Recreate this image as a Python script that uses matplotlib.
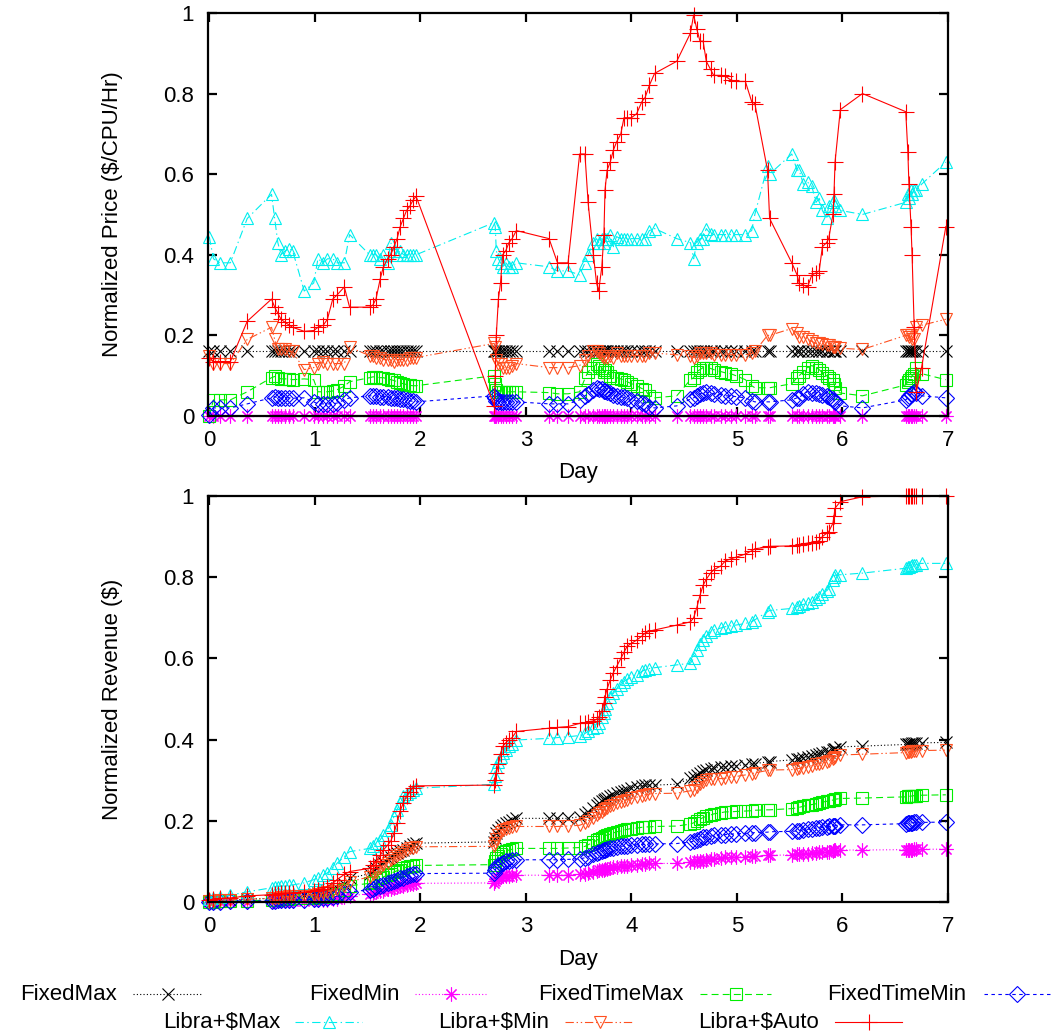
import matplotlib
matplotlib.use("Agg")
import matplotlib.pyplot as plt
from matplotlib.lines import Line2D

# job submission times (days), shared by every series
days = [0.00, 0.04, 0.10, 0.20, 0.36, 0.59, 0.62, 0.65, 0.68, 0.72,
        0.76, 0.79, 0.90, 0.99, 1.03, 1.08, 1.12, 1.17, 1.21, 1.28,
        1.33, 1.52, 1.55, 1.58, 1.62, 1.65, 1.69, 1.72, 1.75, 1.78,
        1.81, 1.84, 1.87, 1.90, 1.93, 1.96, 2.70, 2.71, 2.72, 2.74,
        2.76, 2.78, 2.81, 2.84, 2.87, 2.91, 3.22, 3.30, 3.40, 3.51,
        3.56, 3.59, 3.64, 3.67, 3.69, 3.72, 3.74, 3.75, 3.77, 3.80,
        3.83, 3.86, 3.90, 3.93, 3.96, 4.00, 4.05, 4.10, 4.13, 4.17,
        4.22, 4.43, 4.56, 4.59, 4.62, 4.65, 4.68, 4.71, 4.75, 4.78,
        4.85, 4.89, 4.94, 4.99, 5.08, 5.14, 5.17, 5.29, 5.31, 5.52,
        5.57, 5.59, 5.63, 5.67, 5.71, 5.75, 5.78, 5.81, 5.85, 5.87,
        5.91, 5.92, 5.93, 5.98, 6.19, 6.60, 6.62, 6.63, 6.65, 6.66,
        6.68, 6.70, 6.75, 6.98]

# ---- normalized price ----
price_fixed_max = [0.16, 0.16, 0.16, 0.16, 0.16, 0.16, 0.16, 0.16, 0.16, 0.16,
                   0.16, 0.16, 0.16, 0.16, 0.16, 0.16, 0.16, 0.16, 0.16, 0.16,
                   0.16, 0.16, 0.16, 0.16, 0.16, 0.16, 0.16, 0.16, 0.16, 0.16,
                   0.16, 0.16, 0.16, 0.16, 0.16, 0.16, 0.16, 0.16, 0.16, 0.16,
                   0.16, 0.16, 0.16, 0.16, 0.16, 0.16, 0.16, 0.16, 0.16, 0.16,
                   0.16, 0.16, 0.16, 0.16, 0.16, 0.16, 0.16, 0.16, 0.16, 0.16,
                   0.16, 0.16, 0.16, 0.16, 0.16, 0.16, 0.16, 0.16, 0.16, 0.16,
                   0.16, 0.16, 0.16, 0.16, 0.16, 0.16, 0.16, 0.16, 0.16, 0.16,
                   0.16, 0.16, 0.16, 0.16, 0.16, 0.16, 0.16, 0.16, 0.16, 0.16,
                   0.16, 0.16, 0.16, 0.16, 0.16, 0.16, 0.16, 0.16, 0.16, 0.16,
                   0.16, 0.16, 0.16, 0.16, 0.16, 0.16, 0.16, 0.16, 0.16, 0.16,
                   0.16, 0.16, 0.16, 0.16]
price_fixed_min = [0.0, 0.0, 0.0, 0.0, 0.0, 0.0, 0.0, 0.0, 0.0, 0.0,
                   0.0, 0.0, 0.0, 0.0, 0.0, 0.0, 0.0, 0.0, 0.0, 0.0,
                   0.0, 0.0, 0.0, 0.0, 0.0, 0.0, 0.0, 0.0, 0.0, 0.0,
                   0.0, 0.0, 0.0, 0.0, 0.0, 0.0, 0.0, 0.0, 0.0, 0.0,
                   0.0, 0.0, 0.0, 0.0, 0.0, 0.0, 0.0, 0.0, 0.0, 0.0,
                   0.0, 0.0, 0.0, 0.0, 0.0, 0.0, 0.0, 0.0, 0.0, 0.0,
                   0.0, 0.0, 0.0, 0.0, 0.0, 0.0, 0.0, 0.0, 0.0, 0.0,
                   0.0, 0.0, 0.0, 0.0, 0.0, 0.0, 0.0, 0.0, 0.0, 0.0,
                   0.0, 0.0, 0.0, 0.0, 0.0, 0.0, 0.0, 0.0, 0.0, 0.0,
                   0.0, 0.0, 0.0, 0.0, 0.0, 0.0, 0.0, 0.0, 0.0, 0.0,
                   0.0, 0.0, 0.0, 0.0, 0.0, 0.0, 0.0, 0.0, 0.0, 0.0,
                   0.0, 0.0, 0.0, 0.0]
price_time_max = [0.0, 0.04, 0.04, 0.04, 0.06, 0.095, 0.098, 0.095, 0.092, 0.092,
                  0.092, 0.09, 0.092, 0.09, 0.06, 0.06, 0.06, 0.062, 0.065, 0.074,
                  0.085, 0.095, 0.097, 0.097, 0.095, 0.095, 0.092, 0.09, 0.088, 0.085,
                  0.082, 0.08, 0.078, 0.076, 0.075, 0.075, 0.10, 0.08, 0.065, 0.06,
                  0.06, 0.06, 0.06, 0.06, 0.06, 0.06, 0.058, 0.055, 0.055, 0.06,
                  0.093, 0.11, 0.12, 0.13, 0.125, 0.12, 0.11, 0.115, 0.11, 0.10,
                  0.095, 0.095, 0.092, 0.09, 0.085, 0.08, 0.075, 0.068, 0.065, 0.05,
                  0.045, 0.05, 0.09, 0.095, 0.11, 0.115, 0.12, 0.12, 0.118, 0.115,
                  0.11, 0.107, 0.105, 0.10, 0.09, 0.075, 0.07, 0.07, 0.07, 0.08,
                  0.095, 0.10, 0.11, 0.12, 0.125, 0.12, 0.115, 0.107, 0.10, 0.095,
                  0.09, 0.08, 0.07, 0.057, 0.05, 0.077, 0.085, 0.09, 0.095, 0.10,
                  0.105, 0.12, 0.105, 0.09]
price_time_min = [0.003, 0.02, 0.02, 0.02, 0.03, 0.045, 0.048, 0.045, 0.045, 0.045,
                  0.045, 0.044, 0.045, 0.035, 0.03, 0.03, 0.03, 0.03, 0.032, 0.04,
                  0.045, 0.05, 0.05, 0.05, 0.048, 0.048, 0.046, 0.045, 0.045, 0.044,
                  0.043, 0.042, 0.04, 0.038, 0.036, 0.035, 0.05, 0.045, 0.038, 0.035,
                  0.035, 0.035, 0.035, 0.035, 0.035, 0.035, 0.03, 0.03, 0.03, 0.04,
                  0.05, 0.055, 0.065, 0.07, 0.068, 0.066, 0.063, 0.063, 0.06, 0.058,
                  0.052, 0.05, 0.048, 0.046, 0.044, 0.04, 0.037, 0.032, 0.03, 0.022,
                  0.02, 0.025, 0.042, 0.045, 0.05, 0.055, 0.058, 0.06, 0.057, 0.055,
                  0.053, 0.05, 0.05, 0.048, 0.045, 0.038, 0.035, 0.035, 0.035, 0.04,
                  0.045, 0.045, 0.055, 0.06, 0.058, 0.057, 0.055, 0.052, 0.05, 0.048,
                  0.042, 0.038, 0.035, 0.025, 0.02, 0.04, 0.045, 0.05, 0.055, 0.055,
                  0.06, 0.058, 0.05, 0.045]
price_libra_max = [0.445, 0.39, 0.38, 0.38, 0.49, 0.55, 0.49, 0.43, 0.40, 0.41,
                   0.415, 0.41, 0.31, 0.33, 0.39, 0.38, 0.39, 0.39, 0.38, 0.38,
                   0.45, 0.40, 0.40, 0.40, 0.39, 0.40, 0.38, 0.43, 0.41, 0.40,
                   0.41, 0.40, 0.40, 0.40, 0.40, 0.40, 0.48, 0.47, 0.41, 0.39,
                   0.38, 0.37, 0.38, 0.37, 0.37, 0.38, 0.37, 0.36, 0.36, 0.35,
                   0.38, 0.40, 0.43, 0.44, 0.43, 0.44, 0.43, 0.44, 0.44, 0.45,
                   0.42, 0.445, 0.44, 0.44, 0.44, 0.44, 0.44, 0.44, 0.44, 0.46,
                   0.465, 0.44, 0.43, 0.39, 0.43, 0.44, 0.44, 0.465, 0.452, 0.45,
                   0.45, 0.45, 0.45, 0.45, 0.45, 0.46, 0.50, 0.62, 0.60, 0.65,
                   0.61, 0.61, 0.575, 0.58, 0.57, 0.53, 0.54, 0.51, 0.49, 0.52,
                   0.53, 0.535, 0.52, 0.51, 0.50, 0.53, 0.55, 0.54, 0.56, 0.55,
                   0.56, 0.56, 0.575, 0.63]
price_libra_min = [0.15, 0.13, 0.13, 0.13, 0.19, 0.22, 0.19, 0.165, 0.165, 0.165,
                   0.16, 0.16, 0.115, 0.12, 0.13, 0.135, 0.13, 0.13, 0.13, 0.13,
                   0.17, 0.15, 0.15, 0.145, 0.145, 0.14, 0.14, 0.14, 0.135, 0.14,
                   0.14, 0.14, 0.14, 0.145, 0.145, 0.145, 0.18, 0.17, 0.14, 0.13,
                   0.13, 0.12, 0.12, 0.12, 0.125, 0.13, 0.12, 0.12, 0.12, 0.125,
                   0.14, 0.15, 0.16, 0.16, 0.155, 0.15, 0.145, 0.15, 0.145, 0.15,
                   0.145, 0.156, 0.15, 0.15, 0.15, 0.15, 0.15, 0.148, 0.15, 0.155,
                   0.156, 0.152, 0.15, 0.145, 0.15, 0.155, 0.156, 0.156, 0.155, 0.152,
                   0.152, 0.152, 0.152, 0.152, 0.152, 0.155, 0.16, 0.20, 0.20, 0.217,
                   0.205, 0.196, 0.196, 0.192, 0.185, 0.18, 0.18, 0.178, 0.175, 0.175,
                   0.17, 0.17, 0.17, 0.168, 0.165, 0.20, 0.20, 0.195, 0.20, 0.19,
                   0.19, 0.22, 0.225, 0.24]
price_libra_auto = [0.145, 0.135, 0.135, 0.135, 0.235, 0.29, 0.27, 0.255, 0.24, 0.232,
                    0.225, 0.22, 0.21, 0.212, 0.22, 0.225, 0.24, 0.29, 0.30, 0.32,
                    0.27, 0.27, 0.275, 0.29, 0.34, 0.37, 0.39, 0.40, 0.42, 0.44,
                    0.47, 0.49, 0.51, 0.52, 0.535, 0.545, 0.025, 0.10, 0.20, 0.29,
                    0.33, 0.40, 0.41, 0.43, 0.44, 0.46, 0.44, 0.38, 0.38, 0.65,
                    0.65, 0.53, 0.40, 0.33, 0.31, 0.37, 0.45, 0.56, 0.61, 0.63,
                    0.66, 0.68, 0.70, 0.74, 0.74, 0.74, 0.75, 0.78, 0.79, 0.82,
                    0.85, 0.88, 0.95, 0.995, 0.96, 0.93, 0.93, 0.88, 0.86, 0.845,
                    0.845, 0.843, 0.834, 0.83, 0.83, 0.78, 0.775, 0.61, 0.49, 0.38,
                    0.35, 0.33, 0.325, 0.32, 0.35, 0.355, 0.36, 0.42, 0.43, 0.44,
                    0.50, 0.55, 0.63, 0.76, 0.80, 0.755, 0.655, 0.576, 0.47, 0.40,
                    0.22, 0.06, 0.12, 0.47]

# ---- normalized revenue (cumulative) ----
rev_fixed_max = [0.002, 0.003, 0.004, 0.005, 0.007, 0.009, 0.01, 0.011, 0.012, 0.013,
                 0.014, 0.015, 0.017, 0.019, 0.021, 0.023, 0.026, 0.03, 0.034, 0.045,
                 0.058, 0.07, 0.077, 0.084, 0.092, 0.098, 0.105, 0.112, 0.117, 0.121,
                 0.125, 0.128, 0.134, 0.138, 0.142, 0.145, 0.148, 0.158, 0.169, 0.177,
                 0.184, 0.19, 0.194, 0.198, 0.202, 0.206, 0.206, 0.206, 0.206, 0.21,
                 0.216, 0.222, 0.232, 0.24, 0.244, 0.248, 0.251, 0.254, 0.257, 0.261,
                 0.264, 0.268, 0.271, 0.274, 0.277, 0.28, 0.283, 0.286, 0.288, 0.288,
                 0.288, 0.29, 0.305, 0.309, 0.313, 0.318, 0.322, 0.325, 0.328, 0.33,
                 0.332, 0.333, 0.335, 0.336, 0.338, 0.34, 0.341, 0.345, 0.346, 0.35,
                 0.352, 0.353, 0.355, 0.358, 0.36, 0.363, 0.365, 0.367, 0.369, 0.37,
                 0.374, 0.376, 0.378, 0.382, 0.384, 0.388, 0.389, 0.39, 0.39, 0.391,
                 0.391, 0.392, 0.392, 0.393]
rev_fixed_min = [0.0, 0.0, 0.0, 0.001, 0.001, 0.002, 0.002, 0.002, 0.002, 0.003,
                 0.003, 0.003, 0.003, 0.004, 0.004, 0.005, 0.006, 0.007, 0.008, 0.012,
                 0.016, 0.02, 0.022, 0.024, 0.026, 0.028, 0.031, 0.033, 0.035, 0.037,
                 0.039, 0.04, 0.042, 0.044, 0.045, 0.046, 0.047, 0.052, 0.056, 0.059,
                 0.061, 0.063, 0.064, 0.065, 0.066, 0.066, 0.066, 0.066, 0.067, 0.068,
                 0.07, 0.071, 0.074, 0.077, 0.078, 0.079, 0.08, 0.081, 0.082, 0.084,
                 0.086, 0.087, 0.088, 0.089, 0.089, 0.09, 0.091, 0.093, 0.094, 0.095,
                 0.095, 0.095, 0.098, 0.099, 0.1, 0.101, 0.102, 0.103, 0.105, 0.106,
                 0.108, 0.11, 0.111, 0.111, 0.112, 0.113, 0.113, 0.115, 0.115, 0.116,
                 0.117, 0.117, 0.118, 0.119, 0.12, 0.121, 0.122, 0.123, 0.124, 0.124,
                 0.126, 0.127, 0.127, 0.128, 0.128, 0.129, 0.129, 0.129, 0.129, 0.129,
                 0.13, 0.13, 0.13, 0.13]
rev_time_max = [0.001, 0.001, 0.002, 0.002, 0.003, 0.005, 0.006, 0.006, 0.007, 0.008,
                0.008, 0.009, 0.01, 0.011, 0.012, 0.013, 0.015, 0.017, 0.02, 0.03,
                0.04, 0.046, 0.05, 0.054, 0.058, 0.062, 0.066, 0.07, 0.074, 0.077,
                0.08, 0.083, 0.086, 0.088, 0.089, 0.09, 0.092, 0.1, 0.108, 0.113,
                0.118, 0.122, 0.125, 0.128, 0.13, 0.132, 0.132, 0.132, 0.133, 0.134,
                0.137, 0.141, 0.147, 0.152, 0.155, 0.158, 0.161, 0.163, 0.165, 0.167,
                0.17, 0.173, 0.175, 0.177, 0.179, 0.181, 0.182, 0.184, 0.185, 0.185,
                0.186, 0.187, 0.192, 0.195, 0.2, 0.204, 0.208, 0.211, 0.214, 0.217,
                0.22, 0.222, 0.222, 0.223, 0.224, 0.225, 0.226, 0.227, 0.227, 0.23,
                0.232, 0.233, 0.236, 0.238, 0.24, 0.242, 0.244, 0.246, 0.248, 0.249,
                0.251, 0.252, 0.253, 0.255, 0.256, 0.259, 0.26, 0.26, 0.261, 0.261,
                0.262, 0.262, 0.263, 0.264]
rev_time_min = [0.001, 0.001, 0.001, 0.002, 0.002, 0.003, 0.003, 0.004, 0.004, 0.005,
                0.005, 0.005, 0.006, 0.007, 0.008, 0.009, 0.01, 0.012, 0.014, 0.02,
                0.025, 0.03, 0.033, 0.036, 0.039, 0.042, 0.046, 0.05, 0.052, 0.055,
                0.058, 0.06, 0.063, 0.066, 0.068, 0.07, 0.071, 0.078, 0.085, 0.09,
                0.094, 0.097, 0.1, 0.102, 0.103, 0.104, 0.104, 0.104, 0.105, 0.106,
                0.109, 0.112, 0.117, 0.121, 0.123, 0.125, 0.127, 0.128, 0.13, 0.132,
                0.134, 0.136, 0.137, 0.138, 0.139, 0.14, 0.141, 0.142, 0.142, 0.143,
                0.143, 0.144, 0.148, 0.15, 0.153, 0.156, 0.159, 0.161, 0.162, 0.164,
                0.165, 0.166, 0.167, 0.168, 0.169, 0.17, 0.171, 0.172, 0.173, 0.174,
                0.175, 0.176, 0.178, 0.179, 0.181, 0.182, 0.183, 0.184, 0.185, 0.186,
                0.187, 0.188, 0.188, 0.19, 0.19, 0.193, 0.194, 0.194, 0.195, 0.195,
                0.196, 0.196, 0.196, 0.197]
rev_libra_max = [0.008, 0.011, 0.013, 0.017, 0.025, 0.035, 0.037, 0.038, 0.039, 0.04,
                 0.041, 0.042, 0.047, 0.055, 0.06, 0.066, 0.072, 0.083, 0.095, 0.112,
                 0.124, 0.132, 0.138, 0.145, 0.153, 0.165, 0.178, 0.19, 0.21, 0.227,
                 0.245, 0.26, 0.266, 0.272, 0.277, 0.28, 0.29, 0.31, 0.333, 0.345,
                 0.357, 0.367, 0.375, 0.383, 0.39, 0.399, 0.403, 0.405, 0.407, 0.41,
                 0.415, 0.42, 0.428, 0.432, 0.44, 0.455, 0.465, 0.475, 0.49, 0.505,
                 0.514, 0.525, 0.534, 0.543, 0.548, 0.553, 0.56, 0.568, 0.572, 0.575,
                 0.577, 0.584, 0.588, 0.60, 0.62, 0.635, 0.645, 0.655, 0.666, 0.67,
                 0.675, 0.678, 0.68, 0.682, 0.686, 0.69, 0.695, 0.715, 0.718, 0.723,
                 0.727, 0.73, 0.733, 0.736, 0.74, 0.746, 0.752, 0.758, 0.766, 0.772,
                 0.793, 0.80, 0.805, 0.806, 0.81, 0.822, 0.825, 0.826, 0.828, 0.829,
                 0.83, 0.831, 0.834, 0.834]
rev_libra_min = [0.002, 0.003, 0.004, 0.005, 0.007, 0.009, 0.01, 0.011, 0.012, 0.013,
                 0.014, 0.015, 0.016, 0.018, 0.02, 0.022, 0.025, 0.028, 0.032, 0.04,
                 0.05, 0.062, 0.068, 0.075, 0.083, 0.09, 0.097, 0.103, 0.108, 0.113,
                 0.118, 0.124, 0.128, 0.132, 0.134, 0.136, 0.137, 0.145, 0.155, 0.165,
                 0.172, 0.177, 0.181, 0.183, 0.185, 0.186, 0.186, 0.186, 0.187, 0.189,
                 0.194, 0.2, 0.208, 0.215, 0.218, 0.222, 0.226, 0.229, 0.232, 0.236,
                 0.239, 0.243, 0.246, 0.249, 0.252, 0.255, 0.258, 0.262, 0.264, 0.266,
                 0.267, 0.268, 0.274, 0.277, 0.283, 0.29, 0.296, 0.3, 0.302, 0.303,
                 0.304, 0.305, 0.307, 0.309, 0.313, 0.316, 0.318, 0.324, 0.325, 0.326,
                 0.328, 0.329, 0.331, 0.333, 0.336, 0.339, 0.341, 0.343, 0.345, 0.347,
                 0.352, 0.355, 0.358, 0.362, 0.364, 0.368, 0.369, 0.37, 0.37, 0.371,
                 0.371, 0.372, 0.373, 0.374]
rev_libra_auto = [0.005, 0.007, 0.009, 0.01, 0.015, 0.018, 0.019, 0.02, 0.021, 0.022,
                  0.022, 0.023, 0.025, 0.027, 0.029, 0.033, 0.038, 0.046, 0.055, 0.068,
                  0.075, 0.083, 0.09, 0.10, 0.115, 0.128, 0.14, 0.15, 0.17, 0.195,
                  0.225, 0.245, 0.26, 0.272, 0.282, 0.286, 0.288, 0.30, 0.317, 0.34,
                  0.365, 0.383, 0.392, 0.40, 0.405, 0.42, 0.428, 0.43, 0.432, 0.44,
                  0.442, 0.444, 0.446, 0.45, 0.455, 0.47, 0.49, 0.505, 0.525, 0.547,
                  0.565, 0.58, 0.60, 0.615, 0.63, 0.637, 0.645, 0.655, 0.662, 0.667,
                  0.67, 0.682, 0.69, 0.70, 0.725, 0.755, 0.78, 0.795, 0.81, 0.818,
                  0.828, 0.84, 0.845, 0.849, 0.857, 0.865, 0.87, 0.874, 0.876, 0.877,
                  0.879, 0.88, 0.882, 0.884, 0.885, 0.887, 0.89, 0.90, 0.908, 0.912,
                  0.933, 0.95, 0.97, 0.986, 0.998, 1.0, 1.0, 1.0, 1.0, 1.0,
                  1.0, 1.0, 1.0, 1.0]

labels = ['FixedMax', 'FixedMin', 'FixedTimeMax', 'FixedTimeMin',
          'Libra+$Max', 'Libra+$Min', 'Libra+$Auto']
price_series = [price_fixed_max, price_fixed_min, price_time_max, price_time_min,
                price_libra_max, price_libra_min, price_libra_auto]
rev_series = [rev_fixed_max, rev_fixed_min, rev_time_max, rev_time_min,
              rev_libra_max, rev_libra_min, rev_libra_auto]

# gnuplot-like styles
colors = ['#000000', '#ff00ff', '#00ee00', '#0000ff', '#00eeee', '#ff5020', '#ff0000']
dashes = [(0, (0.8, 1.6)), (0, (0.8, 1.6)), (0, (5, 3)), (0, (2.5, 2.5)),
          (0, (6, 2.5, 1, 2.5)), (0, (6, 2, 1, 2, 1, 2)), 'solid']
markers = ['x', (8, 2, 0), 's', 'D', '^', 'v', '+']
msizes = [9, 10, 9, 8, 9, 9, 11]

plt.rcParams['font.family'] = 'Liberation Sans'
plt.rcParams['font.size'] = 16
plt.rcParams['lines.scale_dashes'] = False

fig = plt.figure(figsize=(10.52, 10.35), dpi=100)
ax1 = fig.add_axes([0.1977, 0.5981, 0.7034, 0.3894])
ax2 = fig.add_axes([0.1977, 0.1285, 0.7034, 0.3923])


def draw_panel(ax, series, ylabel):
    for i in range(len(series)):
        ax.plot(days, series[i], color=colors[i], linestyle=dashes[i], linewidth=0.8,
                marker=markers[i], markersize=msizes[i], markerfacecolor='none',
                markeredgewidth=0.8, clip_on=False, zorder=2 + i)
    ax.set_xlim(-0.012, 7.0)
    ax.set_ylim(0, 1)
    ax.set_xticks(range(8))
    ax.set_xticklabels([str(d) for d in range(8)])
    ax.set_yticks([0, 0.2, 0.4, 0.6, 0.8, 1])
    ax.set_yticklabels(['0', '0.2', '0.4', '0.6', '0.8', '1'])
    ax.tick_params(direction='in', length=6.5, width=1.6, top=True, right=True, pad=10)
    for sp in ax.spines.values():
        sp.set_linewidth(1.6)
        sp.set_zorder(20)
    ax.set_xlabel('Day')
    ax.set_ylabel(ylabel)
    ax.xaxis.set_label_coords(0.5, -0.115)
    ax.yaxis.set_label_coords(-0.115, 0.5)


draw_panel(ax1, price_series, 'Normalized Price ($/CPU/Hr)')
draw_panel(ax2, rev_series, 'Normalized Revenue ($)')

# key below the plots, gnuplot style: text first, sample after it (pixel positions)
key_rows = [
    [(0, 117, 133, 203), (1, 400, 415, 486), (2, 684, 700, 771), (3, 966, 984, 1050)],
    [(4, 280, 295, 362), (5, 549, 565, 634), (6, 819, 835, 902)],
]
key_y = [994, 1022]
W, H = 1052.0, 1035.0
for row, y in zip(key_rows, key_y):
    yf = 1 - y / H
    for i, xt, x1, x2 in row:
        fig.text(xt / W, yf, labels[i], ha='right', va='center', fontsize=16)
        xm = (x1 + x2) / 2.0
        fig.add_artist(Line2D([x1 / W, xm / W, x2 / W], [yf, yf, yf],
                              transform=fig.transFigure, color=colors[i],
                              linestyle=dashes[i], linewidth=0.8,
                              marker=markers[i], markersize=msizes[i],
                              markevery=[1], markerfacecolor='none',
                              markeredgewidth=0.8))

fig.savefig('out.png', dpi=100)
